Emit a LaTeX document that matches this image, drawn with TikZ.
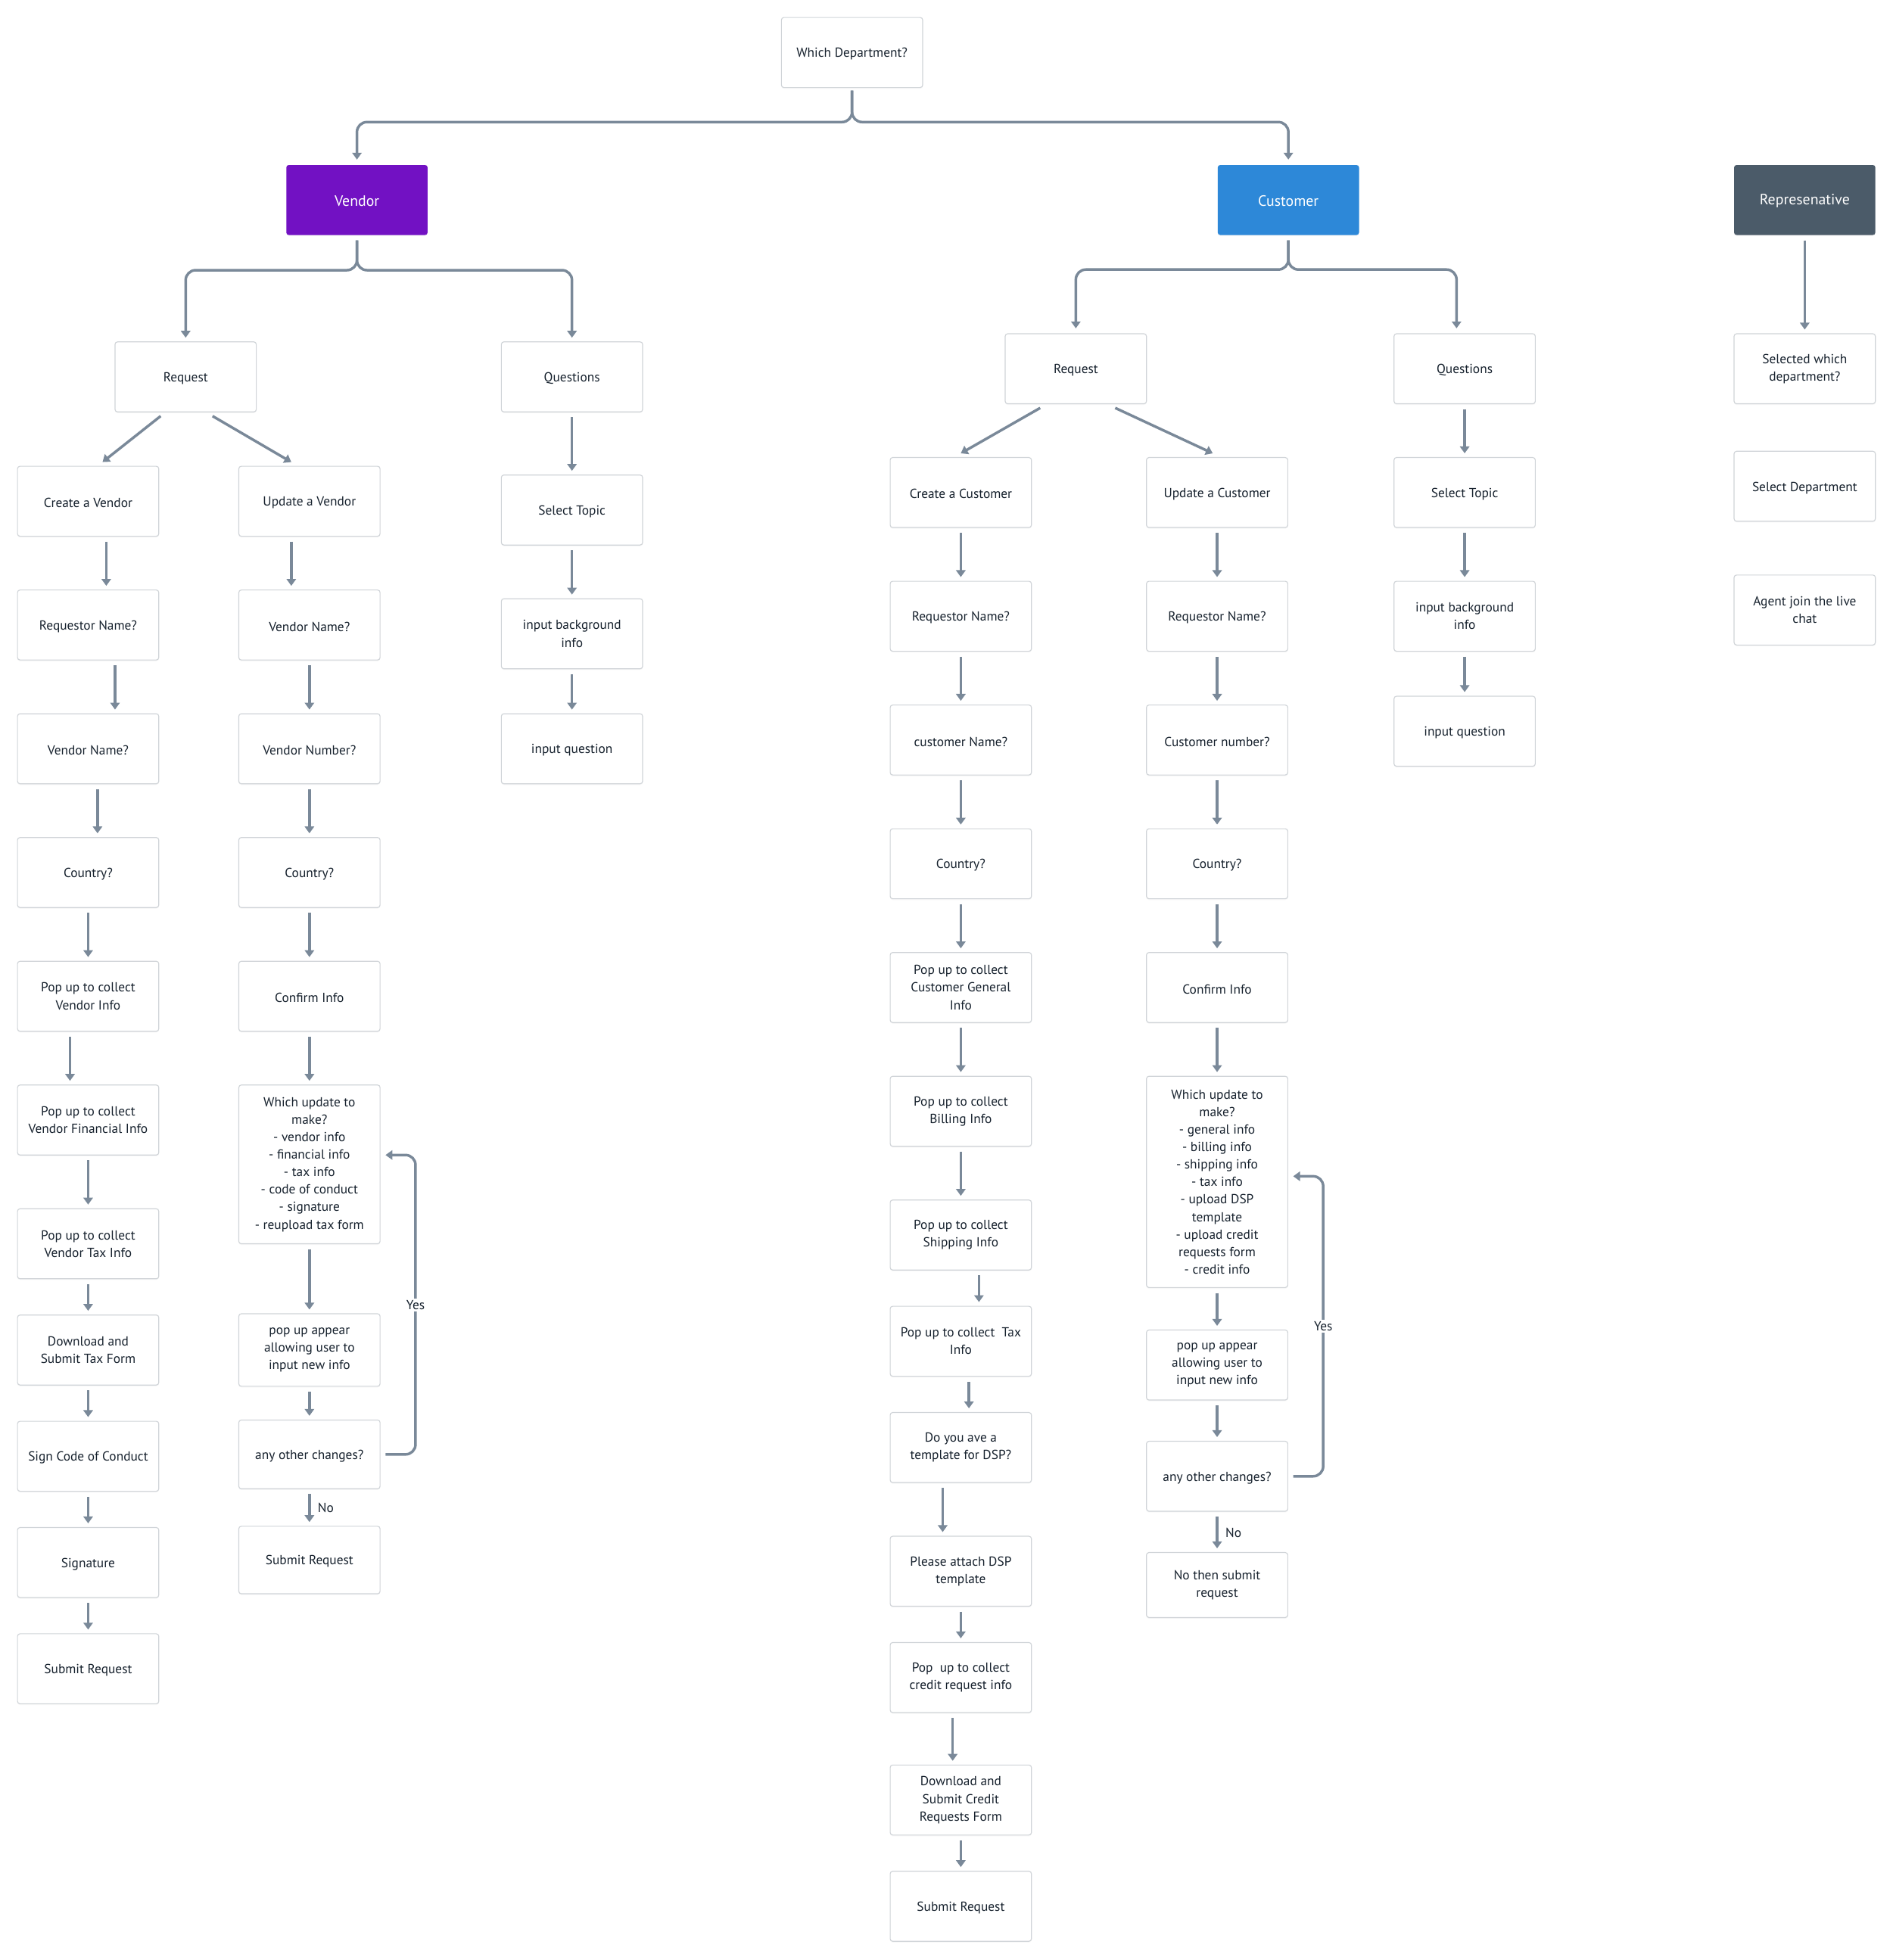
\documentclass[tikz,border=0pt]{standalone}
\usepackage{fontspec}
\setmainfont{PT Sans}
\usetikzlibrary{arrows.meta,calc,shadows}
\definecolor{linec}{HTML}{7A8999}
\definecolor{bord}{HTML}{D0D4D8}
\definecolor{txt}{HTML}{16212D}
\definecolor{venc}{HTML}{7211C3}
\definecolor{cusc}{HTML}{2D88D8}
\definecolor{repc}{HTML}{4B5B69}
\newcommand{\conn}[3][0]{\draw[arr] ($(#2.south)+(#1,4)$) -- ($(#3.north)+(#1,-3)$);}
\begin{document}
\begin{tikzpicture}[x=1pt,y=-1pt,
  box/.style={draw=bord, line width=0.7pt, rounded corners=2pt, fill=white,
    minimum width=113pt, minimum height=56pt, inner sep=0pt, align=center,
    text=txt, font=\fontsize{10.5}{14}\selectfont,
    drop shadow={shadow xshift=0pt, shadow yshift=-1pt, opacity=0.06},
    execute at begin node={\rule{0pt}{10pt}}},
  head/.style={box, draw=none, text=white, font=\fontsize{12}{14}\selectfont},
  arr/.style={draw=linec, line width=2.1pt, -{Triangle[width=7.5pt,length=5.5pt]}},
  lab/.style={text=txt, font=\fontsize{10.5}{14}\selectfont, inner sep=1.5pt}
]
\fill[white] (0,0) rectangle (1514,1568);
\useasboundingbox (0,0) rectangle (1514,1568);

% top level
\node[box] (wd) at (681.5,42) {Which Department?};
\node[head, fill=venc] (ven) at (285.5,160) {Vendor};
\node[head, fill=cusc] (cus) at (1030.5,160) {Customer};
\node[head, fill=repc] (rep) at (1443.5,160) {Represenative};

% vendor
\node[box] (vreq) at (148.5,301.5) {Request};
\node[box] (vq1) at (457.5,301.5) {Questions};
\node[box] (vq2) at (457.5,408) {Select Topic};
\node[box] (vq3) at (457.5,507) {input background\\info};
\node[box] (vq4) at (457.5,599) {input question};

\node[box] (vc1) at (70.5,401) {Create a Vendor};
\node[box] (vc2) at (70.5,500) {Requestor Name?};
\node[box] (vc3) at (70.5,599) {Vendor Name?};
\node[box] (vc4) at (70.5,698) {Country?};
\node[box] (vc5) at (70.5,797) {Pop up to collect\\Vendor Info};
\node[box] (vc6) at (70.5,896) {Pop up to collect\\Vendor Financial Info};
\node[box] (vc7) at (70.5,995) {Pop up to collect\\Vendor Tax Info};
\node[box] (vc8) at (70.5,1080) {Download and\\Submit Tax Form};
\node[box] (vc9) at (70.5,1165) {Sign Code of Conduct};
\node[box] (vc10) at (70.5,1250) {Signature};
\node[box] (vc11) at (70.5,1335) {Submit Request};

\node[box] (vu1) at (247.5,401) {Update a Vendor};
\node[box] (vu2) at (247.5,500) {Vendor Name?};
\node[box] (vu3) at (247.5,599) {Vendor Number?};
\node[box] (vu4) at (247.5,698) {Country?};
\node[box] (vu5) at (247.5,797) {Confirm Info};
\node[box, minimum height=127pt] (vu6) at (247.5,931.5) {Which update to\\make?\\- vendor info\\- financial info\\- tax info\\- code of conduct\\- signature\\- reupload tax form};
\node[box, minimum height=58pt] (vu7) at (247.5,1080) {pop up appear\\allowing user to\\input new info};
\node[box, minimum height=55pt] (vu8) at (247.5,1163.5) {any other changes?};
\node[box, minimum height=54pt] (vu9) at (247.5,1248) {Submit Request};

% customer
\node[box] (creq) at (860.5,295) {Request};
\node[box] (cq1) at (1171.5,295) {Questions};
\node[box] (cq2) at (1171.5,394) {Select Topic};
\node[box] (cq3) at (1171.5,493) {input background\\info};
\node[box] (cq4) at (1171.5,585) {input question};

\node[box] (cc1) at (768.5,394) {Create a Customer};
\node[box] (cc2) at (768.5,493) {Requestor Name?};
\node[box] (cc3) at (768.5,592) {customer Name?};
\node[box] (cc4) at (768.5,691) {Country?};
\node[box] (cc5) at (768.5,790) {Pop up to collect\\Customer General\\Info};
\node[box] (cc6) at (768.5,889) {Pop up to collect\\Billing Info};
\node[box] (cc7) at (768.5,988) {Pop up to collect\\Shipping Info};
\node[box] (cc8) at (768.5,1073) {Pop up to collect\ \ Tax\\Info};
\node[box] (cc9) at (768.5,1158) {Do you ave a\\template for DSP?};
\node[box] (cc10) at (768.5,1257) {Please attach DSP\\template};
\node[box] (cc11) at (768.5,1342) {Pop\ \ up to collect\\credit request info};
\node[box] (cc12) at (768.5,1440) {Download and\\Submit Credit\\Requests Form};
\node[box] (cc13) at (768.5,1525) {Submit Request};

\node[box] (cu1) at (973.5,394) {Update a Customer};
\node[box] (cu2) at (973.5,493) {Requestor Name?};
\node[box] (cu3) at (973.5,592) {Customer number?};
\node[box] (cu4) at (973.5,691) {Country?};
\node[box] (cu5) at (973.5,790) {Confirm Info};
\node[box, minimum height=169pt] (cu6) at (973.5,945.5) {Which update to\\make?\\- general info\\- billing info\\- shipping info\\- tax info\\- upload DSP\\template\\- upload credit\\requests form\\- credit info};
\node[box] (cu7) at (973.5,1092) {pop up appear\\allowing user to\\input new info};
\node[box] (cu8) at (973.5,1181) {any other changes?};
\node[box, minimum height=52pt] (cu9) at (973.5,1268) {No then submit\\request};

% representative
\node[box] (r1) at (1443.5,295) {Selected which\\department?};
\node[box] (r2) at (1443.5,389) {Select Department};
\node[box] (r3) at (1443.5,488) {Agent join the live\\chat};

% brace connectors
\draw[arr, rounded corners=8pt] ($(wd.south)+(0,2)$) |- ($(ven.north)+(0,-34)$) -- ($(ven.north)+(0,-4)$);
\draw[arr, rounded corners=8pt] ($(wd.south)+(0,2)$) |- ($(cus.north)+(0,-34)$) -- ($(cus.north)+(0,-4)$);
\draw[arr, rounded corners=8pt] ($(ven.south)+(0,4)$) |- ($(vreq.north)+(0,-57)$) -- ($(vreq.north)+(0,-3)$);
\draw[arr, rounded corners=8pt] ($(ven.south)+(0,4)$) |- ($(vq1.north)+(0,-57)$) -- ($(vq1.north)+(0,-3)$);
\draw[arr, rounded corners=8pt] ($(cus.south)+(0,4)$) |- ($(creq.north)+(0,-51)$) -- ($(creq.north)+(0,-4)$);
\draw[arr, rounded corners=8pt] ($(cus.south)+(0,4)$) |- ($(cq1.north)+(-6.5,-51)$) -- ($(cq1.north)+(-6.5,-4)$);

% diagonals
\draw[arr] ($(vreq.south)+(-20,3)$) -- ($(vc1.north)+(11.5,-3)$);
\draw[arr] ($(vreq.south)+(21.5,3)$) -- ($(vu1.north)+(-14.5,-3)$);
\draw[arr] ($(creq.south)+(-28.5,3)$) -- ($(cc1.north)+(0,-3)$);
\draw[arr] ($(creq.south)+(31.5,3)$) -- ($(cu1.north)+(-3.5,-3)$);

% vendor create column
\conn[14.5]{vc1}{vc2}
\conn[21.5]{vc2}{vc3}
\conn[7.5]{vc3}{vc4}
\conn{vc4}{vc5}
\conn[-14.5]{vc5}{vc6}
\conn{vc6}{vc7}
\conn{vc7}{vc8}
\conn{vc8}{vc9}
\conn{vc9}{vc10}
\conn{vc10}{vc11}
% vendor update column
\conn[-14.5]{vu1}{vu2}
\conn{vu2}{vu3}
\conn{vu3}{vu4}
\conn{vu4}{vu5}
\conn{vu5}{vu6}
\conn{vu6}{vu7}
\conn{vu7}{vu8}
\conn{vu8}{vu9}
\node[lab, anchor=west] at ($(vu8.south)+(5,15)$) {No};
\draw[arr, rounded corners=8pt] ($(vu8.east)+(4,0)$) -| ($(vu6.east)+(28,-7.5)$) -- ($(vu6.east)+(4,-7.5)$);
\node[lab, fill=white] at ($(vu6.east)+(28,112.5)$) {Yes};
% vendor questions
\conn{vq1}{vq2}
\conn{vq2}{vq3}
\conn{vq3}{vq4}

% customer create column
\conn{cc1}{cc2}
\conn{cc2}{cc3}
\conn{cc3}{cc4}
\conn{cc4}{cc5}
\conn{cc5}{cc6}
\conn{cc6}{cc7}
\conn[14.5]{cc7}{cc8}
\conn[6.5]{cc8}{cc9}
\conn[-14.5]{cc9}{cc10}
\conn{cc10}{cc11}
\conn[-6.5]{cc11}{cc12}
\conn{cc12}{cc13}
% customer update column
\conn{cu1}{cu2}
\conn{cu2}{cu3}
\conn{cu3}{cu4}
\conn{cu4}{cu5}
\conn{cu5}{cu6}
\conn{cu6}{cu7}
\conn{cu7}{cu8}
\conn{cu8}{cu9}
\node[lab, anchor=west] at ($(cu8.south)+(5,17)$) {No};
\draw[arr, rounded corners=8pt] ($(cu8.east)+(4,0)$) -| ($(cu6.east)+(28,-4.5)$) -- ($(cu6.east)+(4,-4.5)$);
\node[lab, fill=white] at ($(cu6.east)+(28,115.5)$) {Yes};
% customer questions
\conn{cq1}{cq2}
\conn{cq2}{cq3}
\conn{cq3}{cq4}

% representative
\conn{rep}{r1}
\end{tikzpicture}
\end{document}
